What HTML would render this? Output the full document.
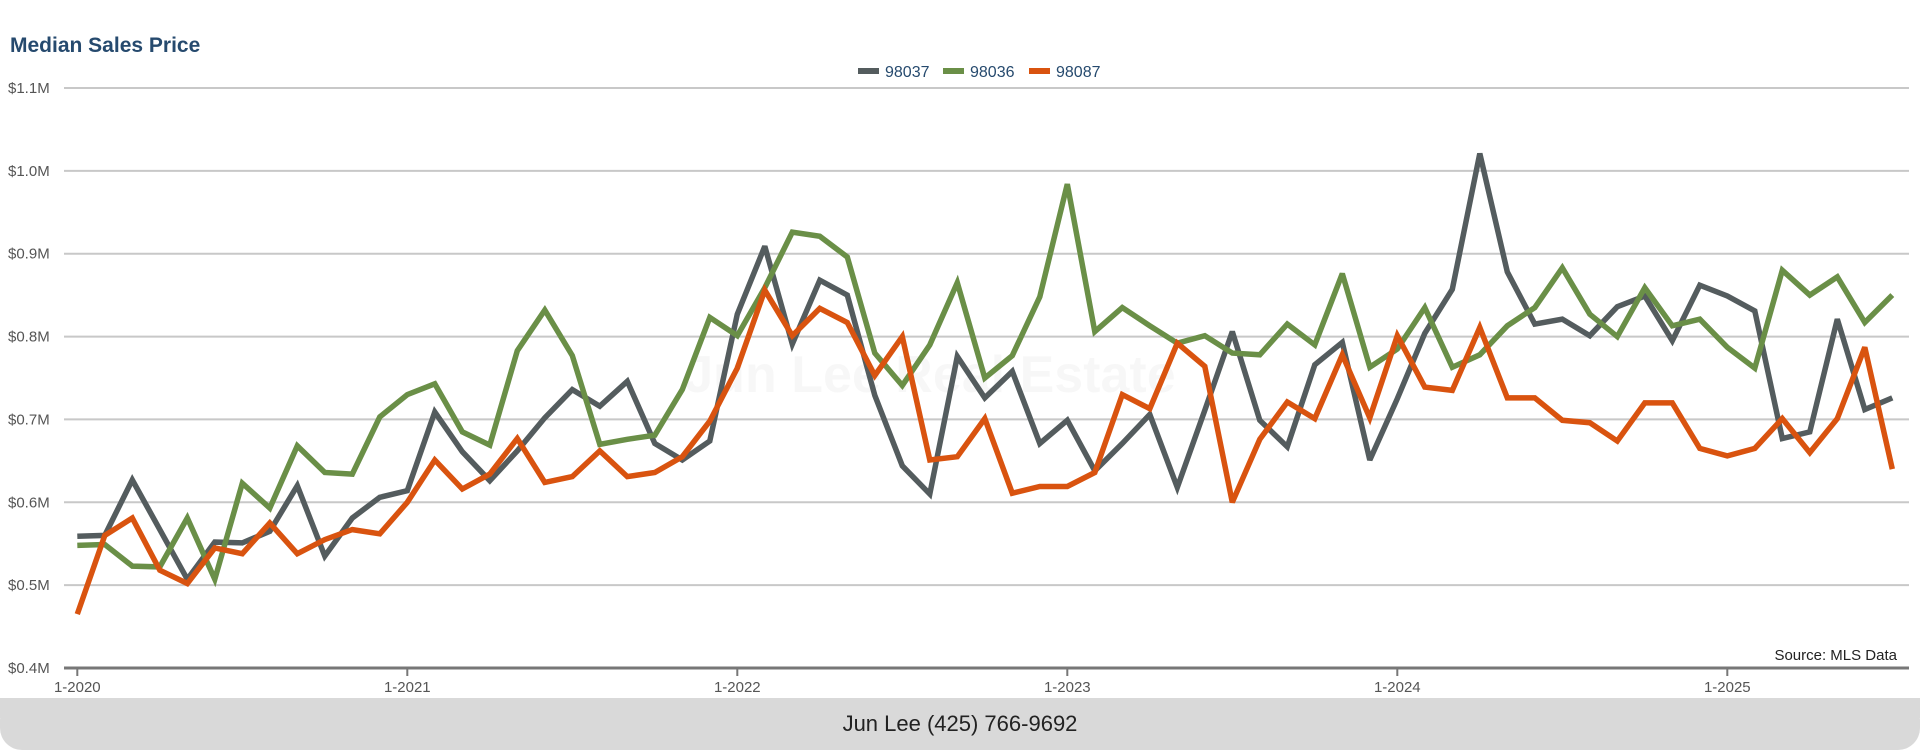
<!DOCTYPE html>
<html><head><meta charset="utf-8"><style>
html,body{margin:0;padding:0;background:#fff;width:1920px;height:750px;overflow:hidden}
svg{display:block;font-family:"Liberation Sans",sans-serif}
</style></head><body>
<svg id="chart" width="1920" height="750" viewBox="0 0 1920 750">
<rect x="0" y="698" width="1920" height="52" rx="22" fill="#d9d9d9"/>
<rect x="0" y="698" width="1920" height="20" fill="#d9d9d9"/>
<text x="960" y="731" text-anchor="middle" font-size="22" fill="#222">Jun Lee (425) 766-9692</text>
<text x="10" y="52" font-size="21" font-weight="bold" fill="#264a6e">Median Sales Price</text>
<text x="930" y="392" text-anchor="middle" font-size="52" font-weight="bold" fill="rgba(0,0,0,0.03)">Jun Lee Real Estate</text>
<text x="1897" y="660" text-anchor="end" font-size="15" fill="#222">Source: MLS Data</text>
<g id="grid"></g><g id="axes"></g><g id="lines"></g><g id="legend"></g>
</svg>
<script>
const seriesNames = ["98037","98036","98087"];
const seriesColors = ["#545c5e","#6a8f47","#d9530f"];
const s98037 = [559,560,627,567,507,552,551,565,620,535,581,606,614,709,661,626,662,702,736,716,746,671,651,674,827,909,791,868,850,729,644,610,776,726,758,671,699,638,671,706,618,711,806,699,667,766,793,651,725,804,857,1021,878,815,821,801,836,849,795,862,849,831,677,685,821,712,726];
const s98036 = [548,549,523,522,581,507,623,593,668,636,634,703,730,743,685,669,783,832,777,670,676,681,736,823,801,859,926,921,896,780,741,790,865,750,777,848,984,806,835,813,792,801,780,778,815,790,876,763,785,835,763,778,813,835,883,827,800,859,813,821,787,762,880,850,872,817,850];
const s98087 = [465,560,581,518,502,545,538,575,538,555,567,562,600,651,616,634,677,624,631,662,631,636,655,698,762,856,801,834,817,753,800,651,655,701,611,619,619,636,730,713,792,764,600,676,721,701,778,702,801,739,735,811,726,726,699,696,674,720,720,665,656,665,701,660,701,787,640];
const yTicks = [400,500,600,700,800,900,1000,1100];
const yTickLabels = ["$0.4M","$0.5M","$0.6M","$0.7M","$0.8M","$0.9M","$1.0M","$1.1M"];
const xTickIdx = [0,12,24,36,48,60];
const xTickLabels = ["1-2020","1-2021","1-2022","1-2023","1-2024","1-2025"];

const NS="http://www.w3.org/2000/svg";
const X0=77.3, DX=27.5, Y0=668, YTOP=88;
function xs(i){return X0+DX*i;}
function ys(v){return Y0-(v-400)/700*(Y0-YTOP);}
function mk(tag,attrs,parent){const e=document.createElementNS(NS,tag);for(const k in attrs)e.setAttribute(k,attrs[k]);parent.appendChild(e);return e;}
const grid=document.getElementById('grid'), axes=document.getElementById('axes'), lines=document.getElementById('lines'), legend=document.getElementById('legend');
yTicks.forEach((v,i)=>{
  if(i>0){const l=mk('line',{x1:64,x2:1909,y1:ys(v),y2:ys(v),stroke:'#c8c8c8','stroke-width':2},grid);
  
  }
  const t=mk('text',{x:8,y:ys(v)+5,'font-size':15,fill:'#555'},axes);t.textContent=yTickLabels[i];
  
  
});
const ax=mk('line',{x1:64,x2:1909,y1:Y0,y2:Y0,stroke:'#777','stroke-width':3},axes);


xTickIdx.forEach((idx,i)=>{
  const tk=mk('line',{x1:xs(idx),x2:xs(idx),y1:Y0,y2:Y0+8,stroke:'#777','stroke-width':2},axes);
  
  
  const t=mk('text',{x:xs(idx),y:Y0+24,'font-size':15,fill:'#555','text-anchor':'middle'},axes);t.textContent=xTickLabels[i];
  
  
});
[s98037,s98036,s98087].forEach((s,k)=>{
  const p=mk('polyline',{points:s.map((v,i)=>xs(i).toFixed(1)+','+ys(v).toFixed(1)).join(' '),fill:'none',stroke:seriesColors[k],'stroke-width':5.5,'stroke-linejoin':'miter','stroke-miterlimit':3},lines);
  
  
});
const lx=[858,943,1029];
seriesNames.forEach((n,k)=>{
  const g=mk('g',{},legend);
  
  
  mk('rect',{x:lx[k],y:68,width:21,height:6,fill:seriesColors[k]},g);
  const t=mk('text',{x:lx[k]+27,y:77,'font-size':16,fill:'#264a6e'},g);t.textContent=n;
});
</script>
</body></html>
